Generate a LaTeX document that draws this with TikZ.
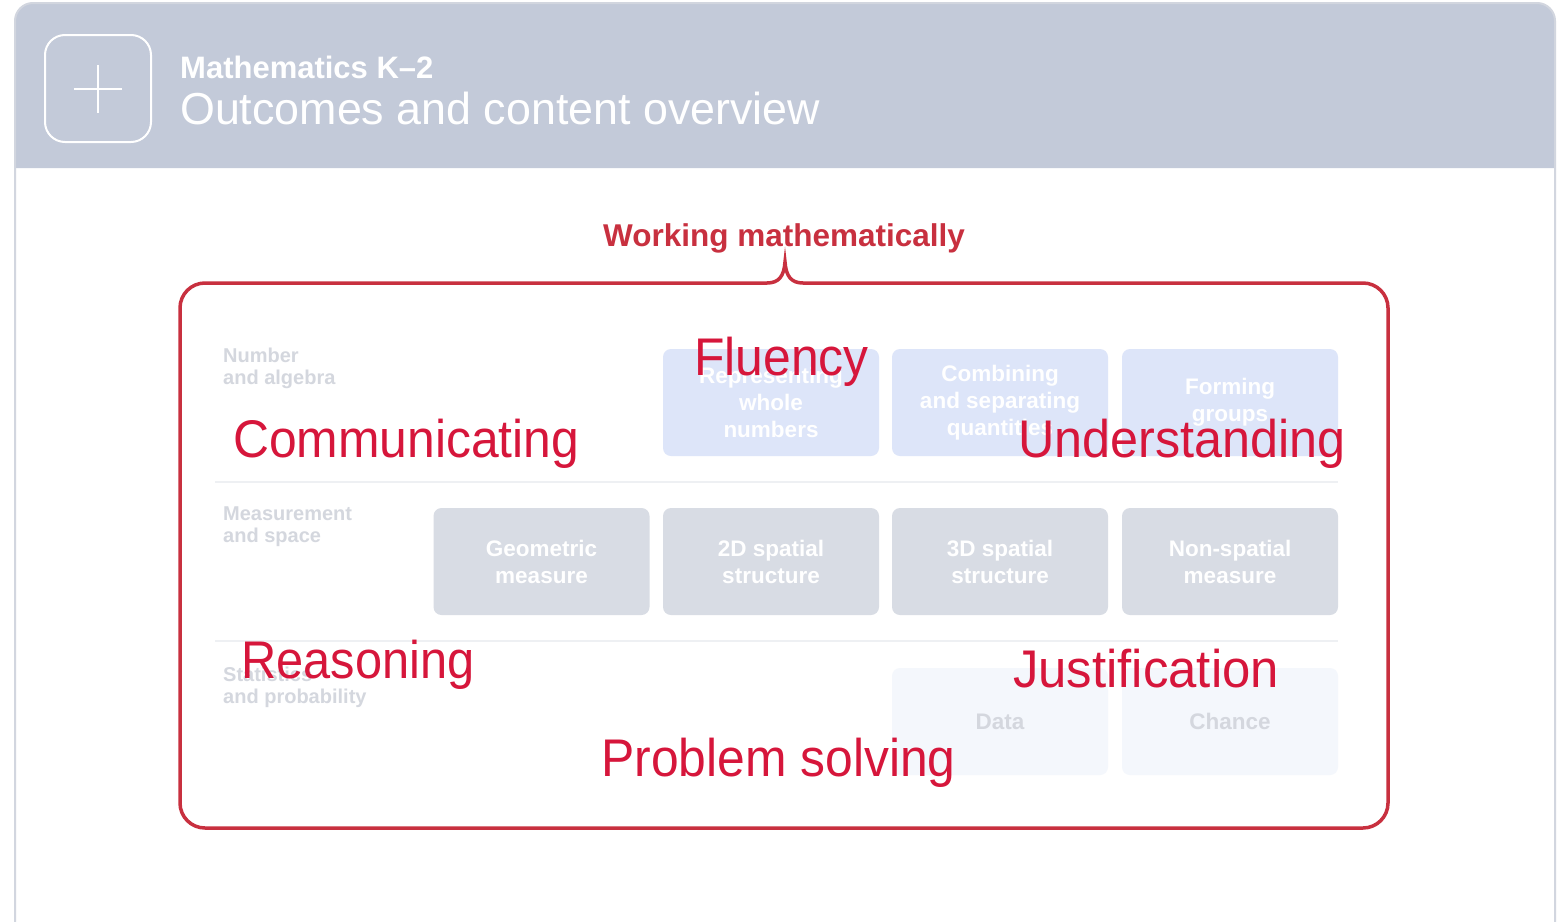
\documentclass[tikz,border=0pt]{standalone}
\usepackage{fontspec}
\setmainfont{Liberation Sans}
\definecolor{headfill}{HTML}{C3CAD9}
\definecolor{cardline}{HTML}{D2D6DF}
\definecolor{wmred}{HTML}{C8303F}
\definecolor{labred}{HTML}{D6163B}
\definecolor{bluebox}{HTML}{DDE5F9}
\definecolor{graybox}{HTML}{D8DCE4}
\definecolor{palebox}{HTML}{F4F7FC}
\definecolor{fadetext}{HTML}{D4D7DE}
\definecolor{sepline}{HTML}{EEF0F3}
\begin{document}
\begin{tikzpicture}[x=1pt,y=-1pt,
  redlab/.style={text=labred, anchor=base west, inner sep=0pt, font=\fontsize{53}{60}\selectfont},
  cbox/.style={rounded corners=8pt, minimum width=216pt, minimum height=107pt, inner sep=0pt, align=center, font=\bfseries\fontsize{22.5}{27}\selectfont},
  bluecell/.style={cbox, fill=bluebox, text=white},
  graycell/.style={cbox, fill=graybox, text=white},
  palecell/.style={cbox, fill=palebox, text=fadetext},
  rowlab/.style={anchor=north west, inner sep=0pt, align=left, text=fadetext, font=\bfseries\fontsize{20}{22}\selectfont},
  sep/.style={draw=sepline, line width=1.5pt},
  frame/.style={draw=wmred, line width=3.5pt}
]
\useasboundingbox (0,0) rectangle (1562,921);
\clip (0,0) rectangle (1562,921);
% card
\fill[white] (0,0) rectangle (1562,921);
\fill[headfill] (15,168) -- (15,21) arc[start angle=180, end angle=90, radius=18pt] -- (1537,3) arc[start angle=90, end angle=0, radius=18pt] -- (1555,168) -- cycle;
\draw[cardline, line width=2pt, rounded corners=18pt] (15,960) -- (15,3) -- (1555,3) -- (1555,960);
% icon
\draw[white, line width=2pt, rounded corners=20pt] (45,35) rectangle (151,142);
\coordinate (pc) at (98,89);
\draw[white, line width=2pt] ([yshift=-24pt]pc) -- ([yshift=24pt]pc);
\draw[white, line width=2pt] ([xshift=-24pt]pc) -- ([xshift=24pt]pc);
\node[anchor=base west, inner sep=0pt, text=white, font=\bfseries\fontsize{31}{34}\selectfont] (t1) at (180,78) {Mathematics K–2};
\node[anchor=base west, inner sep=0pt, text=white, font=\fontsize{44.8}{50}\selectfont] (t2) at (180,124) {Outcomes and content overview};
% faded content
\node[rowlab] (r1) at (223,348) {Number\\and algebra};
\node[rowlab] (r2) at (223,507) {Measurement\\and space};
\node[rowlab] (r3) at (223,667) {Statistics\\and probability};
\draw[sep] (215,482) -- (1338,482);
\draw[sep] (215,641) -- (1338,641);
\node[bluecell] (b12) at (771,402.5) {Representing\\whole\\numbers};
\node[bluecell] (b13) at (1000,402.5) {Combining\\and separating\\quantities};
\node[bluecell] (b14) at (1230,402.5) {Forming\\groups};
\node[graycell] (b21) at (541.5,561.5) {Geometric\\measure};
\node[graycell] (b22) at (771,561.5) {2D spatial\\structure};
\node[graycell] (b23) at (1000,561.5) {3D spatial\\structure};
\node[graycell] (b24) at (1230,561.5) {Non-spatial\\measure};
\node[palecell] (b33) at (1000,721.5) {Data};
\node[palecell] (b34) at (1230,721.5) {Chance};
% working mathematically frame
\node[anchor=base, inner sep=0pt, text=wmred, font=\bfseries\fontsize{31.5}{34}\selectfont] (wm) at (784,246) {Working mathematically};
\coordinate (peak) at (785,262);
\draw[frame, rounded corners=25pt] (803,283) -- (1388,283) -- (1388,828) -- (180,828) -- (180,283) -- (767,283);
\draw[frame] (767,283) .. controls (779,283) and (784,276) .. (peak) .. controls (786,276) and (791,283) .. (803,283);
% labels
\node[redlab] (flu) at (694,375) {\scalebox{0.94}[1]{Fluency}};
\node[redlab] (com) at (233,457) {\scalebox{0.94}[1]{Communicating}};
\node[redlab] (und) at (1018,457) {\scalebox{0.95}[1]{Understanding}};
\node[redlab] (rea) at (241,678) {\scalebox{0.92}[1]{Reasoning}};
\node[redlab] (jus) at (1013,687) {\scalebox{0.96}[1]{Justification}};
\node[redlab] (pro) at (601,776) {\scalebox{0.94}[1]{Problem solving}};
\end{tikzpicture}
\end{document}
